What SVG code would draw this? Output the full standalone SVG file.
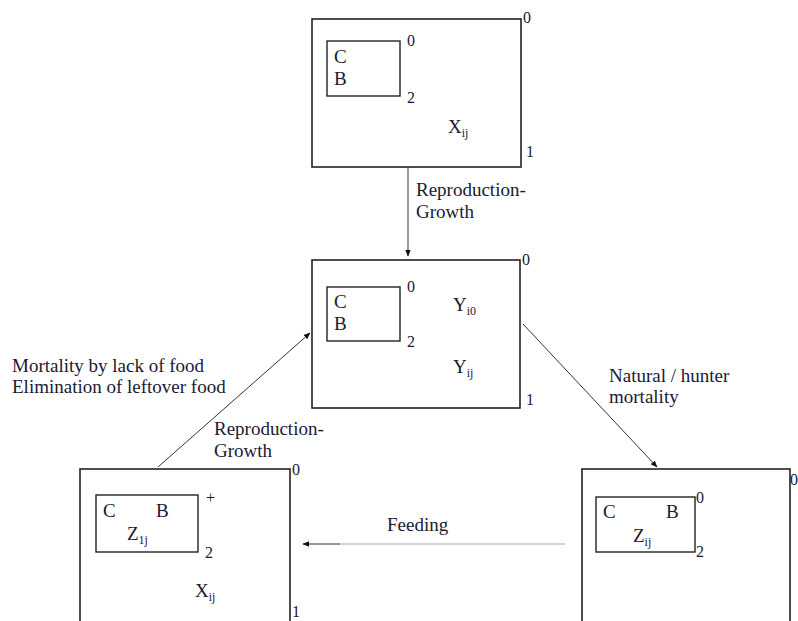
<svg xmlns="http://www.w3.org/2000/svg" width="798" height="621" viewBox="0 0 798 621">
<style>
text{font-family:'Liberation Serif','DejaVu Serif','Times New Roman',serif;fill:#1a1a33;font-size:19px}
.d{font-size:16px}
.s{font-size:12px}
.box{fill:#fff;stroke:#222;stroke-width:1.6}
.inner{fill:none;stroke:#222;stroke-width:1.4}
.con{stroke:#333;stroke-width:1;fill:none}
</style>
<defs>
<marker id="ah" viewBox="0 0 10 10" refX="9" refY="5" markerWidth="7" markerHeight="7" orient="auto" markerUnits="userSpaceOnUse">
<path d="M0,1 L10,5 L0,9 z" fill="#111"/>
</marker>
</defs>
<rect width="798" height="621" fill="#fff"/>
<g id="connectors" font-family="'Liberation Serif', serif">
<line class="con" x1="408" y1="167" x2="408" y2="256" marker-end="url(#ah)"/>
<line class="con" x1="158" y1="467" x2="310" y2="333" marker-end="url(#ah)"/>
<line class="con" x1="523" y1="324" x2="657" y2="467" marker-end="url(#ah)"/>
<line x1="565" y1="544" x2="340" y2="544" stroke="#aaa" stroke-width="1.2"/>
<line class="con" x1="340" y1="544" x2="303" y2="544" marker-end="url(#ah)"/>
<text x="416" y="196">Reproduction-</text>
<text x="416" y="218">Growth</text>
<text x="12" y="372">Mortality by lack of food</text>
<text x="12" y="393">Elimination of leftover food</text>
<text x="214" y="435">Reproduction-</text>
<text x="214" y="457">Growth</text>
<text x="609" y="382">Natural / hunter</text>
<text x="609" y="403">mortality</text>
<text x="387" y="531">Feeding</text>
</g>
<g id="node-top">
<rect class="box" x="312" y="19" width="209" height="148"/>
<rect class="inner" x="327" y="41" width="73" height="55"/>
<text x="334" y="63">C</text>
<text x="334" y="85">B</text>
<text class="d" x="407" y="46">0</text>
<text class="d" x="407" y="103">2</text>
<text x="448" y="133">X<tspan class="s" dy="4">ij</tspan></text>
<text class="d" x="523" y="23">0</text>
<text class="d" x="526" y="157">1</text>
</g>
<g id="node-middle">
<rect class="box" x="312" y="260" width="208" height="148"/>
<rect class="inner" x="327" y="287" width="73" height="54"/>
<text x="334" y="308">C</text>
<text x="334" y="330">B</text>
<text class="d" x="407" y="292">0</text>
<text class="d" x="407" y="347">2</text>
<text x="453" y="311">Y<tspan class="s" dy="4">i0</tspan></text>
<text x="453" y="373">Y<tspan class="s" dy="4">ij</tspan></text>
<text class="d" x="522" y="265">0</text>
<text class="d" x="526" y="405">1</text>
</g>
<g id="node-left">
<rect class="box" x="80" y="469" width="210" height="170"/>
<rect class="inner" x="96" y="495" width="102" height="57"/>
<text x="103" y="517">C</text>
<text x="156" y="517">B</text>
<text x="127" y="540">Z<tspan class="s" dy="4">1j</tspan></text>
<text class="d" x="206" y="503">+</text>
<text class="d" x="205" y="558">2</text>
<text x="195" y="597">X<tspan class="s" dy="4">ij</tspan></text>
<text class="d" x="292" y="475">0</text>
<text class="d" x="292" y="617">1</text>
</g>
<g id="node-right">
<rect class="box" x="582" y="469" width="208" height="170"/>
<rect class="inner" x="596" y="497" width="99" height="55"/>
<text x="603" y="518">C</text>
<text x="666" y="518">B</text>
<text x="633" y="542">Z<tspan class="s" dy="4">ij</tspan></text>
<text class="d" x="696" y="503">0</text>
<text class="d" x="696" y="557">2</text>
<text class="d" x="790" y="485">0</text>
</g>
</svg>
